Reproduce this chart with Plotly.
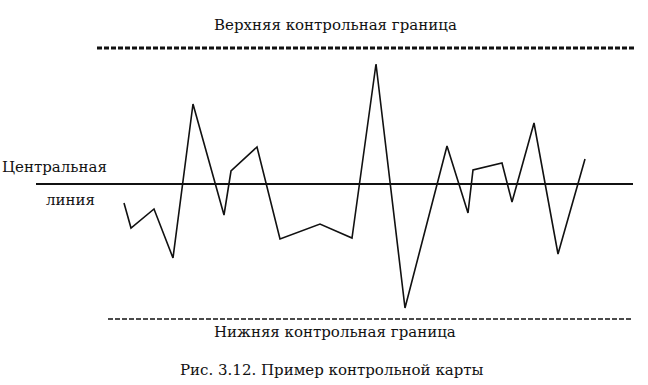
import plotly.graph_objects as go

# Sample positions (time axis) and measured deviations from the centre line
sample_x = [124, 131, 154, 173, 193, 224, 231, 257, 280, 320, 352,
            376, 405, 447, 468, 473, 502, 512, 534, 558, 585]
sample_y = [-19, -44, -25, -74, 80, -31, 13, 37, -55, -40, -54,
            120, -124, 38, -29, 14, 21, -18, 61, -70, 25]

center_value = 0
ucl_value = 136
lcl_value = -135

center_span = [36, 633]
ucl_span = [97, 635]
lcl_span = [108, 633]

label_ucl = "Верхняя контрольная граница"
label_lcl = "Нижняя контрольная граница"
label_cl_1 = "Центральная"
label_cl_2 = "линия"
caption = "Рис. 3.12. Пример контрольной карты"

ink = "#111111"
serif = "DejaVu Serif"

fig = go.Figure()
fig.add_trace(go.Scatter(x=ucl_span, y=[ucl_value] * 2, mode="lines",
                         line=dict(color=ink, width=3, dash="5px,2px"),
                         hoverinfo="skip"))
fig.add_trace(go.Scatter(x=lcl_span, y=[lcl_value] * 2, mode="lines",
                         line=dict(color=ink, width=1.6, dash="5px,2px"),
                         hoverinfo="skip"))
fig.add_trace(go.Scatter(x=center_span, y=[center_value] * 2, mode="lines",
                         line=dict(color=ink, width=1.8),
                         hoverinfo="skip"))
fig.add_trace(go.Scatter(x=sample_x, y=sample_y, mode="lines",
                         line=dict(color=ink, width=1.6)))

def note(text, x, y, xanchor="center", size=15):
    fig.add_annotation(text=text, x=x, y=y, xref="x", yref="y",
                       showarrow=False, xanchor=xanchor, yanchor="middle",
                       font=dict(family=serif, size=size, color=ink))

note(label_ucl, 335, 184 - 25)
note(label_lcl, 335, 184 - 332)
note(label_cl_1, 0, 184 - 167, xanchor="left")
note(label_cl_2, 70, 184 - 200)
note(caption, 332, 184 - 370, size=15)

fig.update_layout(
    width=648, height=385,
    margin=dict(l=0, r=0, t=0, b=0),
    paper_bgcolor="white", plot_bgcolor="white",
    showlegend=False,
    font=dict(family=serif),
    xaxis=dict(range=[0, 648], visible=False, fixedrange=True),
    yaxis=dict(range=[184 - 385, 184], visible=False, fixedrange=True),
)

fig.write_html("out.html", config={"displayModeBar": False},
               post_script="document.body.style.margin='0';document.body.style.padding='0';")
